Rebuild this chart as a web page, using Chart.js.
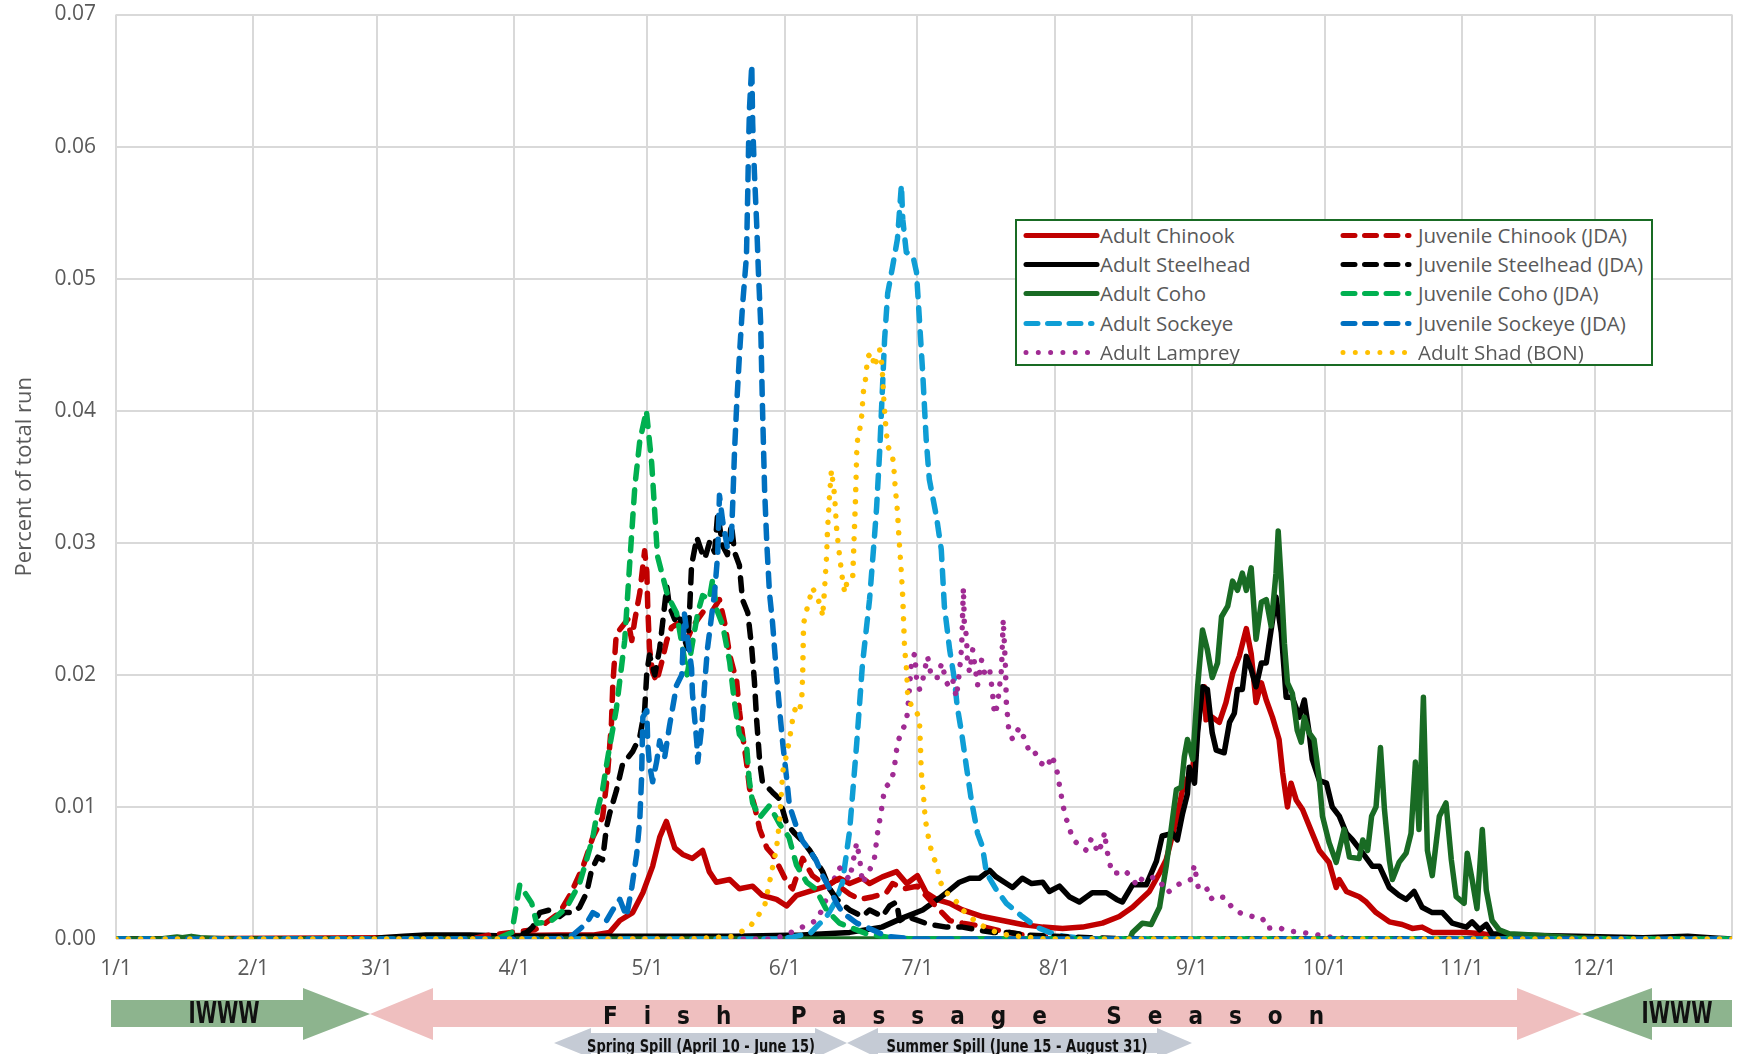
<!DOCTYPE html>
<html>
<head>
    <title>Run timing - percent of total run</title>
    <script src="https://cdn.jsdelivr.net/npm/chart.js"></script>
    <style>
        body {
            margin: 0;
            background: #fff;
            overflow: hidden;
        }

        #wrap {
            position: relative;
            width: 1749px;
            height: 1054px;
        }

        #legend {
            position: absolute;
            left: 1015px;
            top: 219px;
            width: 634px;
            height: 143px;
            border: 2px solid #196B24;
            background: #fff;
            font-family: 'Open Sans', sans-serif;
            font-size: 20.5px;
            color: #595959;
        }

        #legend .swatch, #legend .lbl {
            position: absolute;
            height: 29px;
            line-height: 29px;
            white-space: nowrap;
        }

        #bands {
            position: absolute;
            left: 0;
            top: 0;
        }

        #bands text {
            font-family: 'Liberation Sans Narrow', 'Arial Narrow', 'DejaVu Sans Condensed', sans-serif;
            font-weight: bold;
            fill: #111;
        }
    </style>
</head>
<body>
<div id="wrap">
    <canvas id="runChart" width="1749" height="1054"></canvas>
    <div id="legend"></div>

    <!-- season bands under the date axis -->
    <svg id="bands" width="1749" height="1054">
        <polygon fill="#8DB48E" points="111,1000 303,1000 303,988 370,1014 303,1040 303,1027 111,1027"/>
        <polygon fill="#EFBFBF" points="370,1014 433,988 433,1000 1517,1000 1517,988 1582,1014 1517,1040 1517,1027 433,1027 433,1040"/>
        <polygon fill="#8DB48E" points="1582,1014 1652,988 1652,1000 1732,1000 1732,1027 1652,1027 1652,1040"/>
        <polygon fill="#C5CBD5" points="554,1043 591,1028 591,1033 815,1033 815,1028 847,1043 815,1058 815,1053 591,1053 591,1058"/>
        <polygon fill="#C5CBD5" points="847,1043 878,1028 878,1033 1157,1033 1157,1028 1192,1043 1157,1058 1157,1053 878,1053 878,1058"/>
        <text x="224" y="1023" font-size="30" text-anchor="middle" textLength="71" lengthAdjust="spacingAndGlyphs">IWWW</text>
        <text x="1677" y="1023" font-size="30" text-anchor="middle" textLength="71" lengthAdjust="spacingAndGlyphs">IWWW</text>
        <text x="603" y="1024" font-size="24" textLength="721" lengthAdjust="spacing">Fish Passage Season</text>
        <text x="701" y="1052" font-size="17" text-anchor="middle" textLength="228" lengthAdjust="spacingAndGlyphs">Spring Spill (April 10 - June 15)</text>
        <text x="1017" y="1052" font-size="17" text-anchor="middle" textLength="261" lengthAdjust="spacingAndGlyphs">Summer Spill (June 15 - August 31)</text>
    </svg>
</div>

<script>
    // x axis: day of year (0 = Jan 1), ticks on the first of each month
    var monthStarts = [0, 31, 59, 90, 120, 151, 181, 212, 243, 273, 304, 334, 365];
    var monthLabels = ['1/1', '2/1', '3/1', '4/1', '5/1', '6/1', '7/1', '8/1', '9/1', '10/1', '11/1', '12/1', ''];

    // [day of year, percent of total run]
    var adultChinook = [[0,0],[60,0.0001],[80,0.0002],[100,0.0003],[108,0.0003],[111.5,0.0005],[113.8,0.0014],[116.7,0.002],[119,0.0035],[121.2,0.0055],[122.8,0.0077],[124.3,0.0089],[126.2,0.0069],[128,0.0064],[130.2,0.0061],[132.5,0.0067],[134,0.0051],[135.6,0.0043],[138.6,0.0045],[140.8,0.0038],[143.8,0.004],[146,0.0033],[149.2,0.003],[151.5,0.0025],[153.7,0.0033],[156.6,0.0036],[160.5,0.004],[163.4,0.0046],[165.7,0.0042],[168.6,0.0046],[170.2,0.0042],[173.1,0.0047],[176.3,0.0051],[178.6,0.0042],[181,0.0048],[183,0.0035],[185.3,0.003],[188.3,0.0027],[191.2,0.0022],[195.7,0.0017],[200.2,0.0014],[204.7,0.0011],[209.3,0.0009],[213.8,0.0008],[218.3,0.0009],[222.8,0.0012],[226.6,0.0017],[229.6,0.0024],[233.4,0.0036],[235.7,0.005],[237.2,0.006],[239.5,0.009],[240.9,0.0113],[243.2,0.013],[244.7,0.0171],[245.8,0.0191],[246.2,0.0166],[247.6,0.0168],[249.2,0.0164],[250.7,0.0179],[252.2,0.0201],[253.7,0.0214],[255.3,0.0235],[256.4,0.0216],[257.5,0.0179],[258.7,0.0194],[259.8,0.0181],[261.2,0.0168],[262.7,0.0151],[263.5,0.0126],[264.6,0.01],[265.4,0.0118],[266.6,0.0105],[268,0.0098],[270.2,0.008],[271.8,0.0067],[274,0.0058],[275.6,0.0039],[276.3,0.0045],[277.9,0.0036],[280.8,0.0032],[282.4,0.0028],[284.6,0.002],[287.6,0.0013],[290.5,0.0011],[292.8,0.0008],[295,0.0009],[297.3,0.0005],[305,0.0005],[308.6,0.0004],[312.4,0.0002],[320,0.0001],[365,0]];

    var adultSteelhead = [[0,0],[58,0],[60,0.0001],[65,0.0002],[70,0.0003],[80,0.0003],[90,0.0002],[120,0.0002],[140,0.0002],[155,0.0003],[165.7,0.0005],[173,0.0009],[177.7,0.0016],[182.2,0.0022],[186,0.0031],[188.3,0.0037],[190.5,0.0043],[192.8,0.0046],[195,0.0046],[197.3,0.0052],[198.8,0.0047],[201.1,0.0042],[202.5,0.0039],[204.7,0.0046],[206.8,0.0042],[209.3,0.0043],[210.8,0.0036],[213.1,0.004],[215.3,0.0032],[217.6,0.0028],[220.5,0.0035],[223.7,0.0035],[226,0.003],[227.3,0.0028],[229.6,0.0041],[232.7,0.0041],[235,0.0059],[236.3,0.0078],[238.6,0.008],[239.7,0.0075],[240.9,0.0095],[242,0.011],[242.4,0.013],[243.6,0.0118],[244.3,0.0156],[245.4,0.0191],[246.5,0.0189],[247.6,0.0156],[248.5,0.0143],[250.3,0.0141],[251.5,0.0164],[252.6,0.0171],[253.3,0.0189],[254.4,0.0189],[255.3,0.0214],[256.4,0.0204],[257.5,0.0191],[258.7,0.0209],[259.8,0.0209],[260.9,0.0234],[262,0.0259],[263.2,0.0232],[264.3,0.0183],[265.7,0.0183],[267.3,0.0168],[268.4,0.0181],[269.5,0.0156],[270.2,0.0136],[271.8,0.012],[273.4,0.0118],[274.7,0.01],[276.3,0.0093],[277.9,0.008],[279.3,0.0075],[281.6,0.0065],[283.8,0.0055],[285.4,0.0055],[287.6,0.0039],[289.8,0.0033],[291.4,0.003],[293.2,0.0036],[295,0.0024],[297.3,0.002],[299.6,0.002],[301.8,0.0012],[305,0.0009],[306.3,0.0013],[308,0.0007],[309.5,0.0011],[310.8,0.0004],[316,0.0003],[330,0.0002],[345,0.0001],[355,0.0002],[360,0.0001],[365,0]];

    var adultCoho = [[0,0],[10,0],[13.8,0.00015],[15,0.0001],[17,0.0002],[19,0.0001],[25,0],[229,0],[229.6,0.0005],[231.8,0.0012],[233.8,0.0011],[235.7,0.0024],[237.2,0.0055],[238.4,0.0085],[239.5,0.0113],[240.6,0.0115],[241.3,0.0138],[242,0.0151],[243.2,0.0136],[244.3,0.0191],[245.4,0.0234],[246.5,0.0219],[247.6,0.0198],[248.8,0.0209],[249.7,0.0244],[251.1,0.0252],[252.2,0.0271],[253.3,0.0264],[254.4,0.0277],[255.3,0.0264],[256.4,0.0281],[257.5,0.0227],[258.7,0.0255],[259.8,0.0257],[260.9,0.0237],[262,0.0277],[262.5,0.0309],[263.2,0.027],[263.9,0.0224],[264.6,0.0194],[265.7,0.0186],[266.8,0.0158],[267.7,0.0149],[268.4,0.0168],[269.5,0.0156],[270.6,0.0151],[271.8,0.012],[272.5,0.0093],[274,0.0073],[275.6,0.0058],[277.4,0.0083],[278.6,0.0062],[280.8,0.0061],[281.6,0.0075],[282.7,0.0067],[283.6,0.0093],[284.6,0.01],[285.6,0.0145],[286.5,0.0098],[287.6,0.006],[288.3,0.0045],[289.8,0.0058],[291.4,0.0065],[292.5,0.008],[293.5,0.0134],[294.3,0.0083],[295.3,0.0183],[296.2,0.0067],[297.3,0.0048],[298.9,0.0093],[300.4,0.0103],[301.6,0.006],[302.7,0.0032],[304.5,0.0027],[305.2,0.0065],[306.3,0.0045],[307.4,0.0023],[308.6,0.0083],[309.5,0.0037],[310.8,0.0014],[312.4,0.0007],[314.7,0.0004],[320,0.0003],[330,0.0001],[340,0],[365,0]];

    var adultSockeye = [[0,0],[150,0],[156.7,0.0004],[160.5,0.0017],[162.8,0.003],[164.1,0.0043],[165.7,0.0082],[167.3,0.0148],[168.6,0.0208],[170.2,0.0257],[171.3,0.0304],[171.8,0.0327],[172.5,0.037],[173.1,0.0416],[173.6,0.0454],[174.3,0.0489],[175.4,0.0509],[176.5,0.053],[177.4,0.0571],[177.7,0.0545],[178.5,0.052],[180,0.0517],[180.8,0.0505],[181.5,0.0467],[182.2,0.0429],[183,0.0378],[183.7,0.0348],[185.3,0.032],[186.4,0.0295],[187.1,0.0252],[188.3,0.0219],[189.4,0.0196],[190,0.0176],[191,0.0156],[192.1,0.013],[193.2,0.0105],[194.6,0.008],[195.7,0.007],[196.6,0.005],[198.9,0.0037],[201.1,0.0027],[204.7,0.0017],[207.9,0.0009],[210.8,0.0005],[214,0.0002],[220,0],[365,0]];

    var adultLamprey = [[0,0],[148,0],[150.6,0.0002],[153.7,0.0007],[158.2,0.0014],[159.6,0.0023],[161.5,0.004],[163.4,0.0054],[165.7,0.0045],[167.3,0.0073],[168,0.006],[168.6,0.0042],[170.2,0.0052],[171.3,0.0061],[172,0.008],[172.9,0.0098],[173.6,0.0114],[175.2,0.012],[175.8,0.013],[176.5,0.0148],[177.4,0.0157],[178.5,0.0164],[178.8,0.0173],[179.2,0.0189],[179.7,0.0211],[180.4,0.0216],[180.8,0.0198],[181.5,0.0189],[182.2,0.0196],[183.3,0.0214],[184.2,0.0198],[185.5,0.0198],[186.5,0.0209],[187.6,0.0194],[188.3,0.0191],[189,0.0196],[189.8,0.0183],[190.5,0.0202],[191,0.0221],[191.4,0.0266],[191.6,0.0239],[192.1,0.0229],[192.3,0.0211],[192.8,0.0202],[193.5,0.0219],[194.6,0.0192],[195.5,0.0211],[196.2,0.0201],[197.3,0.0205],[198,0.0186],[198.4,0.017],[199.1,0.0177],[200,0.0204],[200.4,0.0242],[200.9,0.0206],[201.1,0.0179],[201.6,0.016],[202.5,0.0151],[204,0.016],[205.6,0.0149],[206.3,0.0141],[207.4,0.0142],[209,0.0133],[210.4,0.013],[211.3,0.0139],[212.4,0.013],[212.9,0.012],[213.8,0.0103],[214.4,0.0093],[215.3,0.0085],[216,0.0076],[216.9,0.0073],[218.1,0.007],[219.2,0.0067],[220.3,0.0076],[221,0.0073],[221.7,0.0065],[222.8,0.0073],[223.3,0.0081],[223.7,0.0069],[224.4,0.0058],[225,0.005],[226.6,0.005],[227.8,0.0052],[229.3,0.0047],[230.7,0.004],[231.8,0.0046],[233,0.0045],[234.5,0.0047],[236.1,0.0042],[237.5,0.0035],[239.3,0.004],[240.9,0.0043],[242.7,0.0045],[243.6,0.0056],[244,0.0047],[244.5,0.0038],[246.3,0.0039],[247.2,0.003],[248.3,0.0033],[250.7,0.0031],[252.2,0.0023],[254.4,0.0019],[256.7,0.0017],[258.9,0.0016],[260,0.0008],[262.3,0.0009],[264.8,0.0006],[267.7,0.0005],[270.2,0.0004],[272.9,0.0002],[276,0.0001],[280,0],[365,0]];

    var juvChinook = [[0,0],[80,0],[84.4,0.0003],[89.4,0.0005],[94.6,0.0007],[97,0.0012],[100.2,0.002],[102.5,0.0033],[105.4,0.0054],[107.7,0.0077],[109.9,0.0092],[111,0.0124],[111.9,0.0163],[112.2,0.0192],[113,0.0231],[114.2,0.0236],[115.6,0.0242],[116.5,0.0226],[117.2,0.0242],[118.3,0.0262],[119.4,0.0294],[119.9,0.0278],[120.1,0.0252],[120.5,0.022],[121.2,0.0202],[122.1,0.0195],[123.3,0.021],[124.4,0.0226],[125.5,0.0236],[126.9,0.0239],[128.9,0.0226],[130.2,0.0236],[131.4,0.0242],[132.9,0.0249],[134.8,0.0249],[136.3,0.0257],[137.5,0.0239],[138.6,0.0215],[140.2,0.0195],[140.8,0.0173],[141.5,0.0155],[142.4,0.0134],[143.1,0.0114],[144.2,0.0101],[145.4,0.0083],[147,0.0069],[148.3,0.0064],[149.9,0.0054],[151.5,0.0043],[152.8,0.0038],[154.4,0.0054],[155.1,0.0061],[157.3,0.0048],[160.5,0.004],[162.8,0.0045],[164.1,0.0038],[165.7,0.0034],[168,0.003],[171,0.0032],[174,0.0035],[175.4,0.0042],[178,0.0038],[181,0.004],[183.7,0.003],[188.3,0.0014],[191.2,0.0012],[195,0.001],[200,0.0006],[205,0.0003],[212,0.0001],[220,0],[365,0]];

    var juvSteelhead = [[0,0],[88,0],[92.8,0.0005],[94.1,0.0009],[95.7,0.002],[98,0.0022],[100.2,0.0017],[101.4,0.002],[103.2,0.002],[104.7,0.0024],[106.3,0.0035],[107.4,0.0052],[108.8,0.0062],[109.9,0.006],[110.8,0.0085],[111.5,0.0095],[113,0.0112],[114.4,0.0132],[116.7,0.0142],[118.3,0.0153],[119.4,0.0173],[119.9,0.0202],[120.5,0.0215],[121.7,0.02],[122.8,0.022],[123.9,0.0252],[124.4,0.0267],[125,0.0252],[126.2,0.0242],[127.3,0.0247],[128,0.0231],[129.1,0.022],[129.6,0.0252],[130,0.0283],[131.2,0.0304],[132.3,0.0293],[133,0.0288],[134.1,0.0301],[135.2,0.0293],[135.9,0.0322],[137,0.0298],[138.1,0.0291],[139,0.0314],[139.7,0.0293],[140.8,0.0283],[141.5,0.0257],[142.7,0.0247],[143.6,0.022],[144.2,0.0195],[144.7,0.0166],[145.4,0.0134],[146,0.0119],[148.3,0.0111],[149.9,0.0106],[151.5,0.0087],[153.3,0.008],[155.1,0.0074],[156.7,0.0067],[158.2,0.0059],[159.6,0.0051],[161.2,0.0038],[162.8,0.003],[165.7,0.0022],[168.6,0.0017],[170.2,0.0022],[173.1,0.0017],[174.7,0.0025],[176.3,0.0028],[177,0.0014],[178.6,0.0017],[183.7,0.0011],[187.6,0.0009],[191.2,0.0009],[194.4,0.0007],[198,0.0005],[201.8,0.0005],[205.6,0.0003],[212,0.0002],[220,0.0001],[230,0],[365,0]];

    var juvCoho = [[0,0],[86,0],[89.4,0.0005],[91.2,0.0041],[93.9,0.0027],[95,0.0012],[98,0.0013],[99.5,0.0017],[101.8,0.0024],[104.7,0.0042],[106.3,0.006],[107.7,0.0077],[108.8,0.0098],[109.9,0.0113],[111,0.0136],[113,0.0174],[114.9,0.0226],[116,0.0283],[117.2,0.0343],[118.3,0.0377],[119.8,0.04],[121,0.036],[122.3,0.029],[124.6,0.026],[126.6,0.0247],[128,0.022],[129,0.02],[130.3,0.0226],[131.4,0.0247],[132.5,0.026],[134,0.0257],[134.8,0.0273],[135.6,0.025],[137,0.0238],[138.6,0.021],[139.7,0.0179],[140.8,0.0155],[142.4,0.0148],[143,0.0121],[143.8,0.0103],[145.4,0.0092],[147.6,0.0101],[149.9,0.0087],[152,0.0077],[153.7,0.0056],[156,0.0043],[158,0.0038],[160.5,0.0022],[163.4,0.0012],[169.5,0.0004],[175,0.0001],[180,0],[365,0]];

    var juvSockeye = [[0,0],[100,0],[103.2,0.0003],[106.3,0.0012],[107.7,0.002],[110.8,0.0014],[112.2,0.0022],[113.8,0.003],[115.3,0.0017],[116.5,0.0039],[117.6,0.0064],[118.3,0.009],[118.7,0.0121],[119,0.0168],[119.9,0.0173],[120.1,0.0148],[120.5,0.0132],[121.2,0.0119],[122.1,0.0134],[122.8,0.015],[123.9,0.0137],[125,0.0161],[126.6,0.0192],[127.8,0.02],[128.4,0.0246],[129.1,0.0228],[130,0.0205],[130.2,0.0186],[131.2,0.0148],[131.4,0.0134],[132.3,0.0161],[133,0.0195],[133.6,0.022],[134.5,0.0244],[135.2,0.0262],[135.9,0.0291],[136.3,0.0336],[137,0.0317],[138.1,0.0296],[139,0.0304],[139.3,0.033],[139.7,0.0369],[140.2,0.0405],[140.8,0.0441],[141.5,0.0479],[142.4,0.0517],[142.7,0.0567],[142.9,0.0605],[143.1,0.063],[143.6,0.0662],[143.8,0.0618],[144.2,0.058],[144.7,0.0542],[145.1,0.0505],[145.6,0.0467],[146,0.0405],[146.5,0.034],[147,0.0299],[147.6,0.0262],[148.3,0.0239],[149.2,0.02],[149.9,0.0173],[150.6,0.0148],[151.5,0.0121],[152.1,0.0101],[153.7,0.0085],[155.1,0.0074],[156.7,0.0067],[158.2,0.0059],[159.6,0.0048],[161.2,0.0038],[162.8,0.0027],[164.1,0.002],[167.3,0.0012],[170.2,0.0008],[174,0.0002],[180,0],[365,0]];

    var adultShad = [[0,0],[130,0],[139.3,0.0002],[143.1,0.0009],[144.9,0.0017],[146.5,0.0025],[148.1,0.0051],[149.2,0.0069],[149.9,0.009],[150.6,0.0127],[151.7,0.0143],[152.6,0.0161],[153,0.0171],[153.7,0.0176],[154.4,0.0173],[154.9,0.0183],[155.1,0.0201],[155.3,0.0239],[156,0.0249],[156.7,0.0258],[157.3,0.0266],[158.5,0.0258],[159.4,0.0249],[159.6,0.0244],[160,0.0263],[160.5,0.029],[160.7,0.0309],[161.2,0.0338],[161.6,0.0355],[162.3,0.0336],[162.8,0.0309],[163.4,0.0291],[164.1,0.0272],[164.6,0.0262],[165.2,0.0272],[166.4,0.0274],[166.6,0.0293],[166.8,0.0312],[167,0.033],[167.3,0.0368],[167.5,0.0378],[168,0.0386],[168.4,0.0395],[168.8,0.0414],[169.3,0.0424],[169.8,0.0441],[170.7,0.0444],[171.3,0.0433],[172,0.0441],[172.5,0.0446],[172.9,0.0437],[173.1,0.0429],[173.4,0.041],[173.8,0.0391],[174.3,0.0373],[175.2,0.0368],[175.6,0.0361],[176,0.0342],[176.5,0.0324],[177,0.0296],[177.4,0.0277],[177.7,0.0259],[177.9,0.024],[178.1,0.0221],[178.6,0.0202],[178.8,0.0185],[179.7,0.0176],[180.8,0.0173],[181.5,0.0164],[181.7,0.0145],[181.9,0.0126],[182.4,0.0108],[182.8,0.009],[183.3,0.0081],[183.7,0.0073],[184.4,0.0064],[185.5,0.0055],[186,0.0045],[187.1,0.0036],[189,0.0032],[191.2,0.0022],[193.9,0.0014],[196.2,0.0009],[198.9,0.0005],[201.4,0.0003],[204,0.0002],[210,0],[365,0]];

    // series in the workbook's order (first drawn at the bottom)
    var series = [
        {label: 'Adult Chinook', data: adultChinook, color: '#C00000', line: 'solid'},
        {label: 'Adult Steelhead', data: adultSteelhead, color: '#000000', line: 'solid'},
        {label: 'Adult Coho', data: adultCoho, color: '#196B24', line: 'solid'},
        {label: 'Adult Sockeye', data: adultSockeye, color: '#0F9ED5', line: 'dash'},
        {label: 'Adult Lamprey', data: adultLamprey, color: '#A02B93', line: 'dot'},
        {label: 'Juvenile Chinook (JDA)', data: juvChinook, color: '#C00000', line: 'dash'},
        {label: 'Juvenile Steelhead (JDA)', data: juvSteelhead, color: '#000000', line: 'dash'},
        {label: 'Juvenile Coho (JDA)', data: juvCoho, color: '#00B050', line: 'dash'},
        {label: 'Juvenile Sockeye (JDA)', data: juvSockeye, color: '#0070C0', line: 'dash'},
        {label: 'Adult Shad (BON)', data: adultShad, color: '#FFC000', line: 'dot'}
    ];

    var dashes = {solid: [], dash: [13, 11], dot: [0.001, 12.3]};
    var lineWidth = 5.5;
    var textColor = '#595959';
    var gridColor = '#D9D9D9';

    // legend in two columns, drawn as html over the plot
    var legend = document.getElementById('legend');
    series.forEach(function (s, i) {
        var col = i < 5 ? 0 : 1;
        var row = i % 5;
        var sw = document.createElement('div');
        sw.className = 'swatch';
        sw.style.left = (col ? 322 : 5) + 'px';
        sw.style.top = (row * 29.2) + 'px';
        var len = s.line === 'solid' ? 71 : 66;
        var dash = s.line === 'dash' ? '12 9.5' : dashes[s.line].join(' ');
        sw.innerHTML = '<svg width="80" height="29"><line x1="4" y1="14.5" x2="' + (4 + len) + '" y2="14.5" stroke="' + s.color +
            '" stroke-width="5" stroke-linecap="round"' + (dash ? ' stroke-dasharray="' + dash + '"' : '') + '/></svg>';
        legend.appendChild(sw);
        var lb = document.createElement('div');
        lb.className = 'lbl';
        lb.style.left = (col ? 401 : 83) + 'px';
        lb.style.top = (row * 29.2) + 'px';
        lb.textContent = s.label;
        legend.appendChild(lb);
    });

    var ctx = document.getElementById('runChart').getContext('2d');
    new Chart(ctx, {
        type: 'line',
        data: {
            datasets: series.map(function (s, i) {
                return {
                    label: s.label,
                    data: s.data.map(function (p) { return {x: p[0], y: p[1]}; }),
                    borderColor: s.color,
                    backgroundColor: s.color,
                    borderWidth: lineWidth,
                    borderDash: dashes[s.line],
                    borderCapStyle: 'round',
                    borderJoinStyle: 'round',
                    pointRadius: 0,
                    fill: false,
                    tension: 0,
                    order: series.length - i
                };
            })
        },
        options: {
            responsive: false,
            animation: false,
            devicePixelRatio: 1,
            layout: {
                padding: {top: 0, right: 17, bottom: 0, left: 0}
            },
            plugins: {
                legend: {display: false},
                tooltip: {enabled: false}
            },
            scales: {
                x: {
                    type: 'linear',
                    min: 0,
                    max: 365,
                    afterBuildTicks: function (scale) {
                        scale.ticks = monthStarts.map(function (v) { return {value: v}; });
                    },
                    afterFit: function (scale) {
                        scale.height = 115;
                        scale.paddingLeft = 0;
                        scale.paddingRight = 0;
                    },
                    ticks: {
                        autoSkip: false,
                        maxRotation: 0,
                        padding: 17,
                        color: textColor,
                        font: {family: 'Open Sans', size: 21},
                        callback: function (value, index) {
                            return monthLabels[index];
                        }
                    },
                    grid: {color: gridColor, lineWidth: 2, drawTicks: false},
                    border: {display: false}
                },
                y: {
                    min: 0,
                    max: 0.07,
                    afterFit: function (scale) {
                        // pin the plot area: left edge and top edge as in the original
                        scale.width = 116;
                        scale.paddingTop = 14.5;
                        scale.paddingBottom = 0;
                    },
                    ticks: {
                        stepSize: 0.01,
                        padding: 20,
                        color: textColor,
                        font: {family: 'Open Sans', size: 21},
                        callback: function (value) {
                            return value.toFixed(2);
                        }
                    },
                    grid: {color: gridColor, lineWidth: 2, drawTicks: false},
                    border: {display: false},
                    title: {
                        display: true,
                        text: 'Percent of total run',
                        color: textColor,
                        font: {family: 'Open Sans', size: 22},
                        padding: {top: 12, bottom: 0}
                    }
                }
            }
        }
    });
</script>
</body>
</html>
